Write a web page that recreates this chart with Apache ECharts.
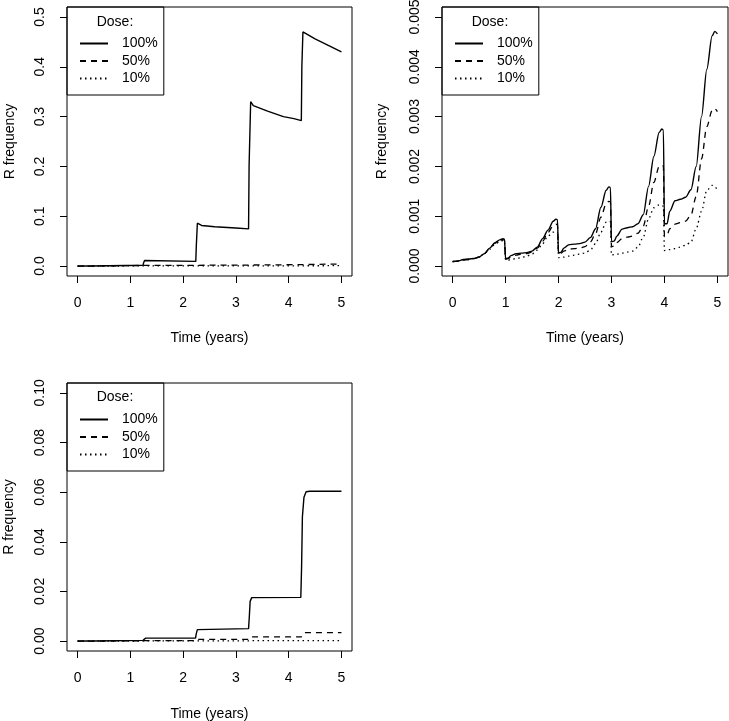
<!DOCTYPE html>
<html><head><meta charset="utf-8">
<script src="https://cdn.jsdelivr.net/npm/echarts@6/dist/echarts.min.js"></script>
<style>html,body{margin:0;padding:0;background:#fff}#c{width:729px;height:721px}</style>
</head><body><div id="c"></div>
<script>
// ---------- data ----------
const doseNames = ['100%', '50%', '10%'];
const xTicks = [0, 1, 2, 3, 4, 5];
const yTicksA = [0, 0.1, 0.2, 0.3, 0.4, 0.5];
const yTicksB = [0, 0.001, 0.002, 0.003, 0.004, 0.005];
const yTicksC = [0, 0.02, 0.04, 0.06, 0.08, 0.10];

// Panel A (top-left)
const tA100 = [0, 0.27, 0.29, 1.24, 1.25, 1.27, 2.24, 2.25, 2.27, 2.35, 2.6, 3.0, 3.24, 3.25, 3.28, 3.33, 3.6, 3.9, 4.1, 4.24, 4.25, 4.27, 4.5, 4.75, 5.0];
const vA100 = [0, 0, 0.0015, 0.0015, 0.006, 0.0112, 0.0094, 0.04, 0.086, 0.0815, 0.079, 0.0765, 0.0745, 0.2, 0.330, 0.322, 0.311, 0.300, 0.296, 0.292, 0.40, 0.470, 0.456, 0.443, 0.430];
const tA50 = [0, 0.27, 0.29, 1.24, 1.27, 2.24, 2.27, 3.24, 3.27, 4.24, 4.27, 5.0];
const vA50 = [0, 0, 0.0012, 0.0012, 0.0015, 0.0015, 0.002, 0.002, 0.0028, 0.0028, 0.0042, 0.0042];
const tA10 = [0, 0.27, 0.29, 1.24, 1.27, 2.24, 2.27, 3.24, 3.27, 4.24, 4.27, 5.0];
const vA10 = [0, 0, 0.0002, 0.0002, 0.0003, 0.0003, 0.0004, 0.0004, 0.0005, 0.0005, 0.0007, 0.0007];

// Panel B (top-right)
const tB = [0, 0.1, 0.2, 0.3, 0.4, 0.5, 0.6, 0.7, 0.8, 0.9, 0.95, 0.98, 1.0, 1.05, 1.1, 1.2, 1.3, 1.4, 1.5, 1.6, 1.7, 1.8, 1.9, 1.95, 1.98, 2.0, 2.05, 2.1, 2.2, 2.3, 2.4, 2.5, 2.6, 2.7, 2.8, 2.9, 2.95, 2.98, 3.0, 3.05, 3.1, 3.2, 3.3, 3.4, 3.5, 3.6, 3.7, 3.8, 3.9, 3.95, 3.98, 4.0, 4.05, 4.1, 4.2, 4.3, 4.4, 4.5, 4.6, 4.7, 4.8, 4.9, 4.95, 5.0];
const vB100 = [0.00009, 0.0001, 0.00013, 0.00014, 0.00015, 0.00018, 0.00025, 0.00036, 0.00047, 0.00053, 0.00055, 0.00054, 0.00015, 0.00016, 0.00021, 0.00025, 0.00026, 0.00027, 0.00030, 0.00038, 0.00055, 0.00072, 0.00090, 0.00094, 0.00093, 0.00026, 0.00028, 0.00036, 0.00043, 0.00044, 0.00045, 0.00048, 0.00057, 0.00075, 0.00118, 0.00152, 0.00159, 0.00158, 0.00049, 0.00050, 0.00060, 0.00074, 0.00077, 0.00079, 0.00085, 0.00103, 0.00160, 0.00220, 0.00268, 0.00275, 0.00273, 0.00085, 0.00085, 0.00110, 0.00131, 0.00134, 0.00138, 0.00153, 0.00200, 0.00300, 0.00395, 0.00462, 0.00471, 0.00466];
const vB50 = [0.00009, 0.0001, 0.00012, 0.00013, 0.00015, 0.00018, 0.00025, 0.00035, 0.00046, 0.00052, 0.00053, 0.00052, 0.00014, 0.00015, 0.00018, 0.00022, 0.00024, 0.00025, 0.00028, 0.00036, 0.00050, 0.00067, 0.00081, 0.00084, 0.00083, 0.00025, 0.00026, 0.00030, 0.00034, 0.00035, 0.00036, 0.00039, 0.00048, 0.00065, 0.00098, 0.00125, 0.0013, 0.00129, 0.00039, 0.00040, 0.00047, 0.00055, 0.00058, 0.0006, 0.00066, 0.00080, 0.00120, 0.00168, 0.00200, 0.00203, 0.00201, 0.00059, 0.00062, 0.00075, 0.00084, 0.00087, 0.00090, 0.00102, 0.00140, 0.00215, 0.00280, 0.00312, 0.00316, 0.0031];
const vB10 = [0.00009, 0.0001, 0.00012, 0.00013, 0.00015, 0.00018, 0.00025, 0.00034, 0.00044, 0.0005, 0.00051, 0.0005, 0.00012, 0.00012, 0.00013, 0.00015, 0.00017, 0.0002, 0.00024, 0.00032, 0.00045, 0.0006, 0.00068, 0.00069, 0.00068, 0.00017, 0.00017, 0.00018, 0.0002, 0.00022, 0.00024, 0.00026, 0.00032, 0.00045, 0.00068, 0.00088, 0.0009, 0.00089, 0.00022, 0.00023, 0.00024, 0.00026, 0.00028, 0.0003, 0.00038, 0.00058, 0.00095, 0.00117, 0.00123, 0.00121, 0.0012, 0.00031, 0.00032, 0.00033, 0.00035, 0.00038, 0.00042, 0.00048, 0.00075, 0.0011, 0.00152, 0.00162, 0.0016, 0.00152];

// Panel C (bottom-left)
const tC100 = [0, 0.27, 0.3, 1.24, 1.26, 1.29, 2.235, 2.25, 2.27, 2.3, 3.24, 3.255, 3.27, 3.3, 4.23, 4.245, 4.26, 4.29, 4.33, 4.4, 5.0];
const vC100 = [0, 0, 0.0003, 0.0003, 0.0009, 0.0012, 0.0012, 0.003, 0.0046, 0.005, 0.005, 0.010, 0.016, 0.0175, 0.0176, 0.030, 0.050, 0.058, 0.0602, 0.0604, 0.0604];
const tC50 = [0, 0.27, 0.3, 1.24, 1.28, 2.24, 2.28, 3.24, 3.28, 4.24, 4.3, 5.0];
const vC50 = [0, 0, 0.0001, 0.0001, 0.0002, 0.0002, 0.0007, 0.0007, 0.0017, 0.0017, 0.0034, 0.0034];
const tC10 = [0, 0.27, 0.3, 1.24, 1.28, 2.24, 2.28, 3.24, 3.28, 4.24, 4.3, 5.0];
const vC10 = [0, 0, 0.00003, 0.00003, 0.00005, 0.00005, 0.0001, 0.0001, 0.00015, 0.00015, 0.0002, 0.0002];

// ---------- chart ----------
const FONT = '"Liberation Sans", Arial, sans-serif';
const zip = (t, v) => t.map((x, i) => [x, v[i]]);
const lineTypes = ['solid', [6, 5], [1.5, 3.5]];
const lineWidths = [1.4, 1.3, 1.3];

function grid(left, top, width, height) {
  return { left, top, width, height, show: true, borderColor: '#000', borderWidth: 1, backgroundColor: 'transparent', containLabel: false, outerBoundsMode: 'none' };
}
function xAx(gi, nameGap) {
  return {
    type: 'value', gridIndex: gi, min: -0.2, max: 5.2,
    name: 'Time (years)', nameLocation: 'middle', nameGap,
    nameTextStyle: { fontSize: 14, color: '#000', fontFamily: FONT, lineHeight: 14 },
    axisLine: { show: false, onZero: false },
    axisTick: { show: true, inside: false, length: 7, lineStyle: { color: '#000', width: 1 }, customValues: xTicks },
    axisLabel: { show: true, margin: 20, fontSize: 14, lineHeight: 14, color: '#000', fontFamily: FONT, customValues: xTicks, formatter: v => String(v) },
    splitLine: { show: false }
  };
}
function yAx(gi, min, max, ticks, dec, nameGap) {
  return {
    type: 'value', gridIndex: gi, min, max,
    name: 'R frequency', nameLocation: 'middle', nameGap,
    nameTextStyle: { fontSize: 14, color: '#000', fontFamily: FONT, lineHeight: 14 },
    axisLine: { show: false, onZero: false },
    axisTick: { show: true, inside: false, length: 7, lineStyle: { color: '#000', width: 1 }, customValues: ticks },
    axisLabel: { show: true, rotate: 90, margin: 20, fontSize: 14, lineHeight: 14, color: '#000', fontFamily: FONT, customValues: ticks, formatter: v => v.toFixed(dec) },
    splitLine: { show: false }
  };
}
function legend(left, top) {
  return {
    left, top, orient: 'vertical', itemWidth: 28, itemHeight: 14, itemGap: 3.5,
    padding: [29.5, 6, 9.5, 12], borderColor: '#000', borderWidth: 1, borderRadius: 0,
    backgroundColor: 'transparent', selectedMode: false,
    itemStyle: { color: 'rgba(0,0,0,0)', borderWidth: 0, opacity: 0 },
    textStyle: { fontSize: 14, color: '#000', fontFamily: FONT, padding: [0, 0, 0, 9] },
    data: doseNames
  };
}
function ser(name, idx, gi, t, v, smooth) {
  return {
    name, type: 'line', xAxisIndex: gi, yAxisIndex: gi, data: zip(t, v),
    symbol: 'none', showSymbol: false, silent: true, clip: true,
    smooth: smooth || false, smoothMonotone: 'x',
    lineStyle: { color: '#000', width: lineWidths[idx], type: lineTypes[idx] },
    itemStyle: { color: '#000' }
  };
}
function doseText(x, y) {
  return { type: 'text', x, y, silent: true, style: { text: 'Dose:', fill: '#000', fontSize: 14, fontFamily: FONT, align: 'center', verticalAlign: 'middle' } };
}

const chart = echarts.init(document.getElementById('c'), null, { renderer: 'canvas' });
chart.setOption({
  animation: false,
  backgroundColor: '#fff',
  grid: [grid(67, 7, 285, 269), grid(442, 7, 286, 269), grid(67, 383, 285, 268)],
  xAxis: [xAx(0, 55), xAx(1, 55), xAx(2, 56)],
  yAxis: [
    yAx(0, -0.02, 0.52, yTicksA, 1, 50),
    yAx(1, -0.0002, 0.0052, yTicksB, 3, 53),
    yAx(2, -0.004, 0.104, yTicksC, 2, 51)
  ],
  legend: [legend(67, 7), legend(442, 7), legend(67, 383)],
  graphic: [doseText(115, 22), doseText(490, 22), doseText(115, 397.5)],
  series: [
    ser('100%', 0, 0, tA100, vA100), ser('50%', 1, 0, tA50, vA50), ser('10%', 2, 0, tA10, vA10),
    ser('100%', 0, 1, tB, vB100, 0.3), ser('50%', 1, 1, tB, vB50, 0.3), ser('10%', 2, 1, tB, vB10, 0.3),
    ser('100%', 0, 2, tC100, vC100), ser('50%', 1, 2, tC50, vC50), ser('10%', 2, 2, tC10, vC10)
  ]
});
</script></body></html>
